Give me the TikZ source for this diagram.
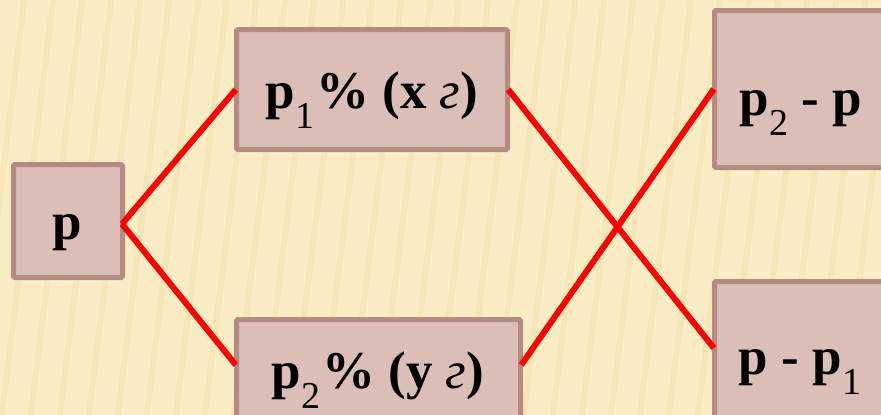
\documentclass[tikz,border=0pt]{standalone}
\usepackage{fontspec}
\setmainfont{Liberation Serif}
\definecolor{bgcol}{HTML}{FAEDC4}
\definecolor{stripecol}{HTML}{F0DCA2}
\definecolor{boxfill}{HTML}{DBBFB7}
\definecolor{boxedge}{HTML}{B48A82}
\newcommand{\subnum}[1]{\raisebox{-0.38em}{\fontsize{38}{38}\selectfont\mdseries #1}}
\newcommand{\gsym}{{\mdseries\itshape г}}
\tikzset{
  boxshape/.style={draw=boxedge, line width=5pt, fill=boxfill, rounded corners=1.5pt},
  txt/.style={anchor=base, inner sep=0pt, font=\fontsize{53}{53}\selectfont\bfseries},
  redline/.style={draw=red, line width=6pt}
}
\begin{document}
\begin{tikzpicture}[x=1pt,y=-1pt]
\fill[bgcol] (0,0) rectangle (881,415);
\useasboundingbox (0,0) rectangle (881,415);
\begin{scope}
\clip (0,0) rectangle (881,415);
\foreach \i in {-3,...,32} {
  \draw[stripecol, line width=6pt, opacity=0.4] (\i*29,430) -- (\i*29+55,-15);
}
% boxes
\draw[boxshape] (13.5,164.5) rectangle (122.5,277.5);
\node[inner sep=0pt] (p) at (68,221) {};
\draw[boxshape] (236.5,29.5) rectangle (507.5,149.5);
\node[inner sep=0pt,minimum width=272pt,minimum height=121pt] (b1) at (372,89.5) {};
\draw[boxshape] (236.5,319.5) rectangle (520.5,440);
\node[inner sep=0pt,minimum width=285pt,minimum height=121pt] (b2) at (378.5,379.5) {};
\draw[boxshape] (714.5,10.5) rectangle (900,167.5);
\node[inner sep=0pt,minimum width=186pt,minimum height=158pt] (b3) at (807,89) {};
\draw[boxshape] (714.5,281.5) rectangle (900,440);
\node[inner sep=0pt,minimum width=186pt,minimum height=159pt] (b4) at (807,360.5) {};
\coordinate (pe) at (122,224);
% lines
\draw[redline] (pe) -- (b1.west);
\draw[redline] (pe) -- ([yshift=14.5pt]b2.west);
\draw[redline] (b1.east) -- ([yshift=12.5pt]b4.west);
\draw[redline] ([yshift=14.5pt]b2.east) -- (b3.west);
% texts
\node[txt] (tp) at (67,239) {p};
\node[txt] (t1) at (372,108) {p\subnum{1}\hspace{2pt}\% (x \gsym)};
\node[txt] (t2) at (378,388) {p\subnum{2}\hspace{2pt}\% (y \gsym)};
\node[txt] (t3) at (801,115) {p\subnum{2} - p};
\node[txt] (t4) at (800,374) {p - p\subnum{1}};
\end{scope}
\end{tikzpicture}
\end{document}
